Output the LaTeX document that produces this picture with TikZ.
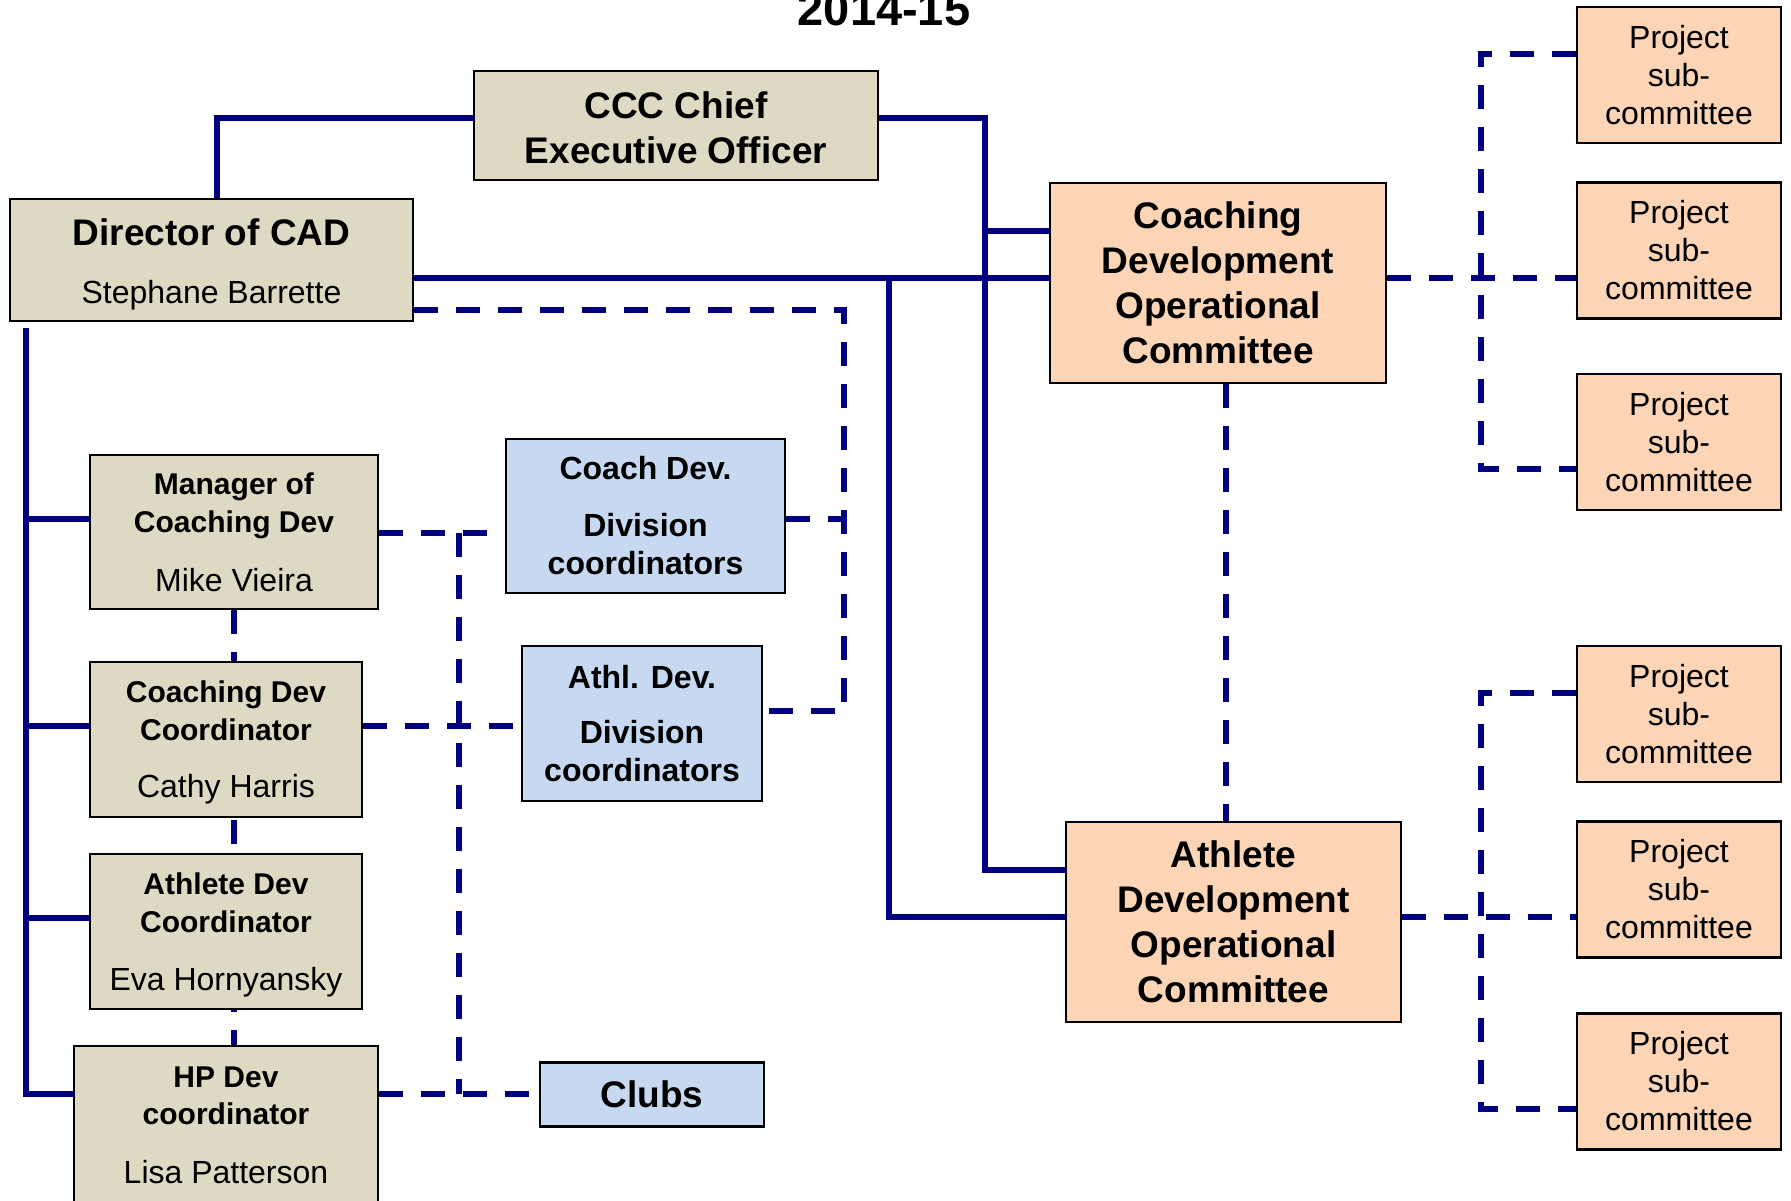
\documentclass[tikz,border=0pt]{standalone}
\usepackage{fontspec}
\setmainfont{Liberation Sans}
\usetikzlibrary{calc}
\definecolor{navyc}{RGB}{0,0,128}
\definecolor{tanc}{RGB}{221,217,195}
\definecolor{peachc}{RGB}{251,213,181}
\definecolor{bluec}{RGB}{198,217,241}
\pgfdeclarelayer{bg}
\pgfsetlayers{bg,main}
\tikzset{
  box/.style={draw=black, line width=2.5pt, inner sep=0pt, align=center, text=black},
  tanbox/.style={box, fill=tanc},
  peachbox/.style={box, fill=peachc},
  bluebox/.style={box, fill=bluec},
  projbox/.style={peachbox, minimum width=204pt, minimum height=136pt, font=\fontsize{32}{38}\selectfont},
  sline/.style={draw=navyc, line width=5.5pt},
  dline/.style={draw=navyc, line width=5.5pt, dash pattern=on 24pt off 18pt},
}
\begin{document}
\begin{tikzpicture}[x=1pt,y=-1pt]
\useasboundingbox (0,0) rectangle (1791,1201);

% title
\node (title) [anchor=base, font=\bfseries\fontsize{47}{47}\selectfont] at (884,26) {2014-15};

% top boxes
\node (ceo) [tanbox, minimum width=404pt, minimum height=109pt, font=\bfseries\fontsize{37}{45.5}\selectfont] at (676,125.5) {\rule{0pt}{31pt}CCC Chief\\Executive Officer};
\node (dir) [tanbox, minimum width=403pt, minimum height=122pt, font=\fontsize{32}{58}\selectfont] at (211.5,260) {\rule{0pt}{35pt}{\bfseries\fontsize{37}{37}\selectfont Director of CAD}\\Stephane Barrette};

% committees
\node (cdoc) [peachbox, minimum width=336pt, minimum height=200pt, font=\bfseries\fontsize{37}{45}\selectfont] at (1218,283) {Coaching\\Development\\Operational\\Committee};
\node (adoc) [peachbox, minimum width=335pt, minimum height=200pt, font=\bfseries\fontsize{37}{45}\selectfont] at (1233.5,922) {Athlete\\Development\\Operational\\Committee};

% project sub-committees
\node (p1) [projbox] at (1679,75) {Project\\sub-\\committee};
\node (p2) [projbox] at (1679,250.5) {Project\\sub-\\committee};
\node (p3) [projbox] at (1679,442) {Project\\sub-\\committee};
\node (p4) [projbox] at (1679,714) {Project\\sub-\\committee};
\node (p5) [projbox] at (1679,889.5) {Project\\sub-\\committee};
\node (p6) [projbox] at (1679,1081.5) {Project\\sub-\\committee};

% left staff boxes
\node (mgr) [tanbox, minimum width=288pt, minimum height=154pt, font=\bfseries\fontsize{30}{38}\selectfont] at (234,532) {Manager of\\Coaching Dev\\[21pt]{\mdseries\fontsize{32}{38}\selectfont Mike Vieira}};
\node (cdc) [tanbox, minimum width=272pt, minimum height=155pt, font=\bfseries\fontsize{30}{38}\selectfont] at (226,739.5) {\rule{0pt}{28.5pt}Coaching Dev\\Coordinator\\[19pt]{\mdseries\fontsize{32}{38}\selectfont Cathy Harris}};
\node (adc) [tanbox, minimum width=272pt, minimum height=155pt, font=\bfseries\fontsize{30}{38}\selectfont] at (226,931.5) {\rule{0pt}{28.5pt}Athlete Dev\\Coordinator\\[20pt]{\mdseries\fontsize{32}{38}\selectfont Eva Hornyansky}};
\node (hp) [tanbox, minimum width=304pt, minimum height=158pt, font=\bfseries\fontsize{30}{37}\selectfont] at (226,1125) {HP Dev\\coordinator\\[22pt]{\mdseries\fontsize{32}{38}\selectfont Lisa Patterson}};

% division boxes
\node (cdiv) [bluebox, minimum width=279pt, minimum height=154pt, font=\bfseries\fontsize{32}{38}\selectfont] at (645.5,516) {Coach Dev.\\[19pt]Division\\coordinators};
\node (adiv) [bluebox, minimum width=240pt, minimum height=155pt, font=\bfseries\fontsize{32}{38}\selectfont] at (642,723.5) {Athl. Dev.\\[17pt]Division\\coordinators};
\node (clubs) [bluebox, minimum width=224pt, minimum height=64pt, font=\bfseries\fontsize{37}{37}\selectfont] at (652,1094.5) {Clubs};

% bus coordinates
\coordinate (busA) at (985,0);
\coordinate (busB) at (889,0);
\coordinate (busL) at (26,0);
\coordinate (busD) at (844,0);
\coordinate (busV) at (459,0);
\coordinate (busR) at (1481,0);

% connection points
\coordinate (ceoOutL) at ([yshift=7.5pt]ceo.west);
\coordinate (ceoOutR) at ([yshift=7.5pt]ceo.east);
\coordinate (cdocIn1) at ([yshift=52pt]cdoc.west);
\coordinate (adocIn1) at ([yshift=52pt]adoc.west);
\coordinate (adocIn2) at ([yshift=5pt]adoc.west);
\coordinate (dirTop) at ([xshift=5.5pt]dir.north);
\coordinate (dirOut1) at ([yshift=-18pt]dir.east);
\coordinate (dirOut2) at ([yshift=-50pt]dir.east);
\coordinate (spineTop) at ($(dir.south -| busL)+(0,6)$);
\coordinate (mgrIn) at ([yshift=13pt]mgr.west);
\coordinate (cdcIn) at ([yshift=13.5pt]cdc.west);
\coordinate (adcIn) at ([yshift=13.5pt]adc.west);
\coordinate (hpIn) at ([yshift=31pt]hp.west);
\coordinate (mgrOut) at ([yshift=-1pt]mgr.east);
\coordinate (cdcOut) at ([yshift=13.5pt]cdc.east);
\coordinate (hpOut) at ([yshift=31pt]hp.east);
\coordinate (cdivOut) at ([yshift=-3pt]cdiv.east);
\coordinate (adivIn) at ([yshift=12.5pt]adiv.east);
\coordinate (cdocDown) at ([xshift=8pt]cdoc.south);
\coordinate (cdocOut) at ([yshift=5pt]cdoc.east);
\coordinate (adocOut) at ([yshift=5pt]adoc.east);
\coordinate (p1In) at ([yshift=21pt]p1.west);
\coordinate (p3In) at ([yshift=-27pt]p3.west);
\coordinate (p4In) at ([yshift=21pt]p4.west);
\coordinate (p6In) at ([yshift=-27.5pt]p6.west);

\begin{pgfonlayer}{bg}
  % solid reporting lines
  \draw[sline] (dirTop) |- (ceoOutL);
  \draw[sline] (ceoOutR) -| (busA |- adocIn1) -- (adocIn1);
  \draw[sline] (busA |- cdocIn1) -- (cdocIn1);
  \draw[sline] (dirOut1) -- (dirOut1 -| cdoc.west);
  \draw[sline] (busB |- dirOut1) -- (busB |- adocIn2) -- (adocIn2);
  \draw[sline] (spineTop) |- (hpIn);
  \draw[sline] (busL |- mgrIn) -- (mgrIn);
  \draw[sline] (busL |- cdcIn) -- (cdcIn);
  \draw[sline] (busL |- adcIn) -- (adcIn);

  % dashed lines
  \draw[dline] (dirOut2) -| (busD |- adivIn) -- (adivIn);
  \draw[dline] (cdivOut) -- (busD |- cdivOut);
  \draw[dline] (mgrOut) -- (mgrOut -| cdiv.west);
  \draw[dline] (busV |- mgrOut) -- (busV |- hpOut);
  \draw[dline] (cdcOut) -- (cdcOut -| adiv.west);
  \draw[dline] (hpOut) -- (hpOut -| clubs.west);
  \draw[dline] (mgr.south) -- (mgr.south |- hp.north);
  \draw[dline] (cdocDown) -- (cdocDown |- adoc.north);
  \draw[dline] (cdocOut) -- (cdocOut -| p2.west);
  \draw[dline] (p1In) -| (busR |- p3In) -- (p3In);
  \draw[dline] (adocOut) -- (adocOut -| p5.west);
  \draw[dline] (p4In) -| (busR |- p6In) -- (p6In);
\end{pgfonlayer}
\end{tikzpicture}
\end{document}
